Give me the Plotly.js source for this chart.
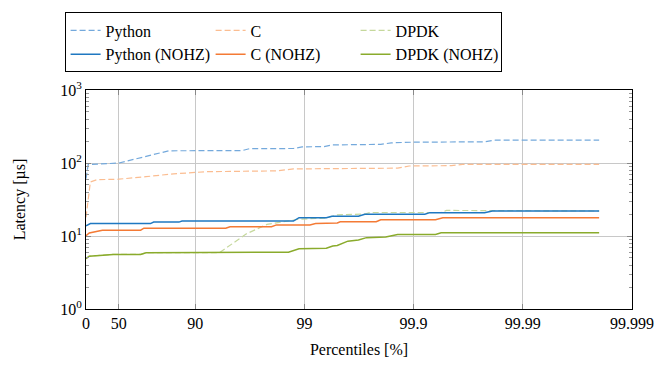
<!DOCTYPE html>
<html>
<head>
<meta charset="utf-8">
<script src="https://cdn.plot.ly/plotly-3.0.1.min.js"></script>
<style>html,body{margin:0;padding:0;background:#fff;}</style>
</head>
<body>
<div id="chart" style="width:665px;height:368px"></div>
<script>
// Percentile tick labels
const tickPercentiles = [0, 50, 90, 99, 99.9, 99.99, 99.999];
const tickLabels = ["0", "50", "90", "99", "99.9", "99.99", "99.999"];

// Series (percentile, latency in µs)
const pythonP   = [0, 4.5, 50, 82.6, 96.3, 96.8, 98.74, 98.95, 99.34, 99.44, 99.80, 99.84, 99.9, 99.9776, 99.9822, 99.998];
const pythonV   = [61, 95, 100, 147, 148, 157, 158, 166, 168, 177, 180, 189, 193, 195, 206, 206];

const cP        = [0, 8.8, 20.6, 49.9, 71.8, 84.2, 92.1, 98.2, 98.74, 99.86, 99.89, 99.955, 99.9645, 99.998];
const cV        = [18, 55, 59, 60, 65, 71, 76, 78, 83, 85, 91, 92, 96, 96];

const dpdkP     = [0, 6.7, 43.8, 68.4, 71.8, 94.0, 96.6, 97.8, 98.88, 99.37, 99.5, 99.72, 99.75, 99.944, 99.95, 99.98, 99.9822, 99.998];
const dpdkV     = [4.9, 5.3, 5.6, 5.6, 5.9, 5.9, 10.7, 14.4, 17, 17.6, 19.5, 20, 21, 21, 22.4, 22.4, 22, 22];

const pythonNP  = [0, 8.8, 74.3, 76.0, 85.9, 86.8, 98.74, 98.88, 99.37, 99.44, 99.68, 99.72, 99.921, 99.929, 99.9776, 99.981, 99.998];
const pythonNV  = [13.8, 14.8, 14.8, 15.5, 15.5, 16, 16, 17.8, 17.8, 18.6, 18.6, 19.9, 19.9, 20.9, 20.9, 22, 22];

const cNP       = [0, 6.7, 29.2, 68.4, 70.5, 94.75, 95.2, 98.0, 98.2, 99.11, 99.21, 99.5, 99.53, 99.78, 99.80, 99.937, 99.946, 99.998];
const cNV       = [10.1, 11, 12, 12, 12.8, 12.8, 13.4, 13.4, 14.2, 14.2, 14.8, 15.1, 15.7, 15.7, 16.7, 16.7, 17.8, 17.8];

const dpdkNP    = [0, 6.7, 43.8, 68.4, 71.8, 94.0, 94.5, 98.6, 98.88, 99.37, 99.45, 99.5, 99.60, 99.68, 99.73, 99.82, 99.86, 99.937, 99.944, 99.998];
const dpdkNV    = [4.9, 5.3, 5.6, 5.6, 5.9, 5.9, 6.0, 6.0, 6.7, 6.8, 7.3, 7.4, 8.5, 8.8, 9.5, 9.7, 10.5, 10.5, 11.1, 11.1];

// Y tick values
const yMajor = [1, 10, 100, 1000];
const yMajorText = ['10<sup>0</sup>', '10<sup>1</sup>', '10<sup>2</sup>', '10<sup>3</sup>'];
const yMinor = [2, 3, 4, 5, 6, 7, 8, 9, 20, 30, 40, 50, 60, 70, 80, 90, 200, 300, 400, 500, 600, 700, 800, 900];

// percentile -> "nines" axis coordinate
const toX = p => -Math.log10(1 - p / 100);

const colors = {
  py: '#1f78c1', pyL: '#74a9dc',
  c: '#f47a35', cL: '#fbbd91',
  dp: '#8aab2c', dpL: '#c5d89c'
};
const dash = '6px,3px';

const traces = [
  {name: 'Python', x: pythonP.map(toX), y: pythonV, line: {color: colors.pyL, width: 1.2, dash: dash}},
  {name: 'C', x: cP.map(toX), y: cV, line: {color: colors.cL, width: 1.2, dash: dash}},
  {name: 'DPDK', x: dpdkP.map(toX), y: dpdkV, line: {color: colors.dpL, width: 1.2, dash: dash}},
  {name: 'Python (NOHZ)', x: pythonNP.map(toX), y: pythonNV, line: {color: colors.py, width: 1.5}},
  {name: 'C (NOHZ)', x: cNP.map(toX), y: cNV, line: {color: colors.c, width: 1.5}},
  {name: 'DPDK (NOHZ)', x: dpdkNP.map(toX), y: dpdkNV, line: {color: colors.dp, width: 1.5}}
].map(t => Object.assign({type: 'scatter', mode: 'lines', hoverinfo: 'skip'}, t));

const serifFont = () => ({family: 'Liberation Serif', size: 16, color: '#000'});

const layout = {
  width: 665, height: 368,
  margin: {l: 86, r: 33, t: 86, b: 59},
  paper_bgcolor: '#fff', plot_bgcolor: '#fff',
  font: serifFont(),
  showlegend: true,
  legend: {
    orientation: 'h', x: 0.361, xanchor: 'center', y: 1.354, yanchor: 'top',
    bordercolor: '#000', borderwidth: 1, bgcolor: '#fff',
    font: serifFont(), traceorder: 'normal', entrywidth: 100, itemwidth: 30
  },
  xaxis: {
    range: [0, 5], tickmode: 'array',
    tickvals: tickPercentiles.map(toX), ticktext: tickLabels,
    tickfont: serifFont(),
    showgrid: true, gridcolor: '#c8c8c8', gridwidth: 1,
    showline: true, linecolor: '#000', linewidth: 1, mirror: 'allticks',
    ticks: 'inside', ticklen: 5, tickcolor: '#888',
    zeroline: false,
    title: {text: 'Percentiles [%]', font: serifFont(), standoff: 12}
  },
  yaxis: {
    type: 'log', range: [0, 3], tickmode: 'array',
    tickvals: yMajor, ticktext: yMajorText,
    tickfont: serifFont(),
    showgrid: true, gridcolor: '#c8c8c8', gridwidth: 1,
    showline: true, linecolor: '#000', linewidth: 1, mirror: 'allticks',
    ticks: 'inside', ticklen: 5, tickcolor: '#888',
    minor: {tickmode: 'array', tickvals: yMinor, ticks: 'inside', ticklen: 3, tickcolor: '#999', showgrid: false},
    zeroline: false,
    title: {text: 'Latency [µs]', font: serifFont(), standoff: 30}
  }
};

Plotly.newPlot('chart', traces, layout, {staticPlot: true, displayModeBar: false});
</script>
</body>
</html>
